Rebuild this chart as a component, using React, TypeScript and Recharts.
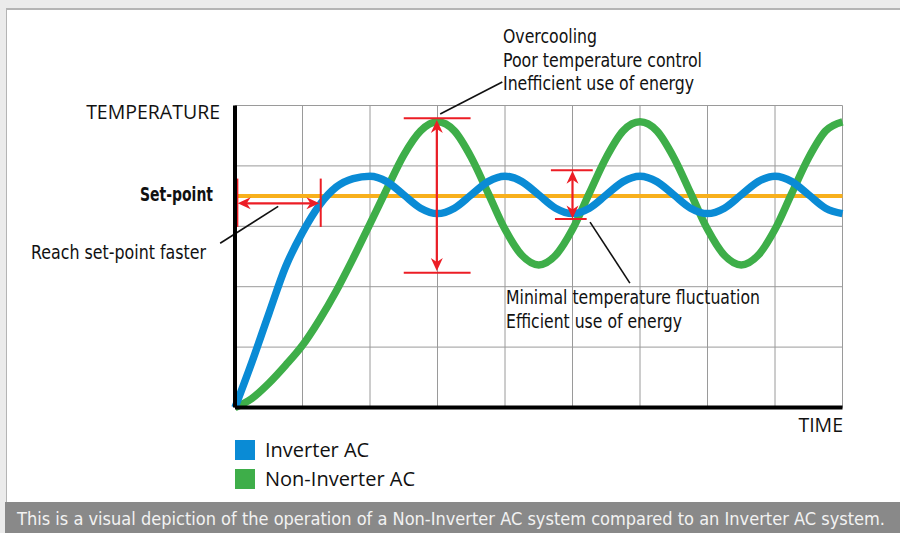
import React from "react"
import { LineChart, Line, XAxis, YAxis, CartesianGrid, ReferenceLine, Legend } from "recharts"

// time axis (grid units), one point every quarter cell
const timeSteps = [0, 0.25, 0.5, 0.75, 1, 1.25, 1.5, 1.75, 2, 2.25, 2.5, 2.75, 3, 3.25, 3.5, 3.75, 4, 4.25, 4.5, 4.75, 5, 5.25, 5.5, 5.75, 6, 6.25, 6.5, 6.75, 7, 7.25, 7.5, 7.75, 8, 8.25, 8.5, 8.75, 9]

// temperature readings
const inverterAC = [0, 0.75, 1.55, 2.33, 2.9, 3.35, 3.65, 3.79, 3.83, 3.74, 3.52, 3.3, 3.21, 3.3, 3.52, 3.74, 3.83, 3.74, 3.52, 3.3, 3.21, 3.3, 3.52, 3.74, 3.83, 3.74, 3.52, 3.3, 3.21, 3.3, 3.52, 3.74, 3.83, 3.74, 3.52, 3.3, 3.21]
const nonInverterAC = [0, 0.15, 0.4, 0.7, 1.03, 1.45, 1.93, 2.47, 3.04, 3.62, 4.18, 4.58, 4.73, 4.58, 4.14, 3.55, 2.95, 2.52, 2.36, 2.52, 2.95, 3.55, 4.14, 4.58, 4.73, 4.58, 4.14, 3.55, 2.95, 2.52, 2.36, 2.52, 2.95, 3.55, 4.14, 4.58, 4.73]

const setPoint = 3.5
const xTicks = [0, 1, 2, 3, 4, 5, 6, 7, 8, 9]
const yTicks = [0, 1, 2, 3, 4, 5]

// red markers: [x1, y1, x2, y2] in data units
const redCaps = [
  [0.035, 2.99, 0.035, 3.79],
  [1.27, 2.99, 1.27, 3.79],
  [2.5, 4.79, 3.49, 4.79],
  [2.5, 2.23, 3.49, 2.23],
  [4.68, 3.93, 5.3, 3.93],
  [4.74, 3.12, 5.21, 3.12],
]
const redArrows = [
  [0.04, 3.38, 1.25, 3.38],
  [2.99, 4.76, 2.99, 2.26],
  [5.0, 3.92, 5.0, 3.13],
]
const leaderLines = [
  [0.64, 3.33, -0.22, 2.72],
  [3.04, 4.86, 3.96, 5.39],
  [5.26, 3.07, 5.85, 2.06],
]

const legendOrder = ["Inverter AC", "Non-Inverter AC"]

const chartData = timeSteps.map((t, i) => ({ t, inverter: inverterAC[i], nonInverter: nonInverterAC[i] }))

const RED = "#ec1d25"
const narrow = "'DejaVu Sans Condensed', 'Liberation Sans Narrow', sans-serif"
const plain = "'Open Sans', 'Noto Sans', sans-serif"

// ticks are needed for the grid but not drawn
const NoTick = () => <g />

function ArrowShape(props: any) {
  const { x1, y1, x2, y2 } = props
  const dx = x2 - x1
  const dy = y2 - y1
  const len = Math.hypot(dx, dy) || 1
  const ux = dx / len
  const uy = dy / len
  const px = -uy
  const py = ux
  const L = 13
  const W = 6
  const N = 4
  const head = (tx: number, ty: number, dirx: number, diry: number) => {
    const bx = tx - dirx * L
    const by = ty - diry * L
    const nx = tx - dirx * (L - N)
    const ny = ty - diry * (L - N)
    return `${tx},${ty} ${bx + px * W},${by + py * W} ${nx},${ny} ${bx - px * W},${by - py * W}`
  }
  return (
    <g>
      <line x1={x1 + ux * 6} y1={y1 + uy * 6} x2={x2 - ux * 6} y2={y2 - uy * 6} stroke={RED} strokeWidth={2.2} />
      <polygon points={head(x2, y2, ux, uy)} fill={RED} />
      <polygon points={head(x1, y1, -ux, -uy)} fill={RED} />
    </g>
  )
}

function renderLegend(props: any) {
  const items = [...(props.payload || [])].sort(
    (a: any, b: any) => legendOrder.indexOf(a.value) - legendOrder.indexOf(b.value)
  )
  return (
    <div>
      {items.map((item: any) => (
        <div key={item.value} style={{ display: "flex", alignItems: "center", height: 29 }}>
          <span style={{ display: "inline-block", width: 20, height: 20, background: item.color, marginRight: 10 }} />
          <span style={{ fontFamily: plain, fontSize: 20, color: "#111", lineHeight: "20px" }}>{item.value}</span>
        </div>
      ))}
    </div>
  )
}

// narrow annotation text squeezed to the width measured in the picture
function Note({ x, y, w, children, bold, fill, size }: any) {
  return (
    <text
      x={x}
      y={y}
      textLength={w}
      lengthAdjust="spacingAndGlyphs"
      fontFamily={narrow}
      fontWeight={bold ? "bold" : "normal"}
      fontSize={size || 20}
      fill={fill || "#111"}
    >
      {children}
    </text>
  )
}

export default function App() {
  return (
    <div style={{ position: "absolute", left: 0, top: 0, width: 900, height: 533, background: "#ebebeb", overflow: "hidden" }}>
      {/* white panel */}
      <div style={{ position: "absolute", left: 6, top: 8, width: 894, height: 494, background: "#fff", borderLeft: "1.5px solid #b4b4b4", borderTop: "2px solid #b4b4b4", boxSizing: "border-box" }} />
      {/* caption bar */}
      <div style={{ position: "absolute", left: 5, top: 502, width: 895, height: 31, background: "#898989" }} />

      <div style={{ position: "absolute", left: 0, top: 0 }}>
        <LineChart width={900} height={533} data={chartData} margin={{ top: 105.5, right: 57.5, bottom: 124.5, left: 234 }}>
          <CartesianGrid stroke="#9a9a9a" strokeWidth={1} />
          <XAxis
            type="number"
            dataKey="t"
            domain={[0, 9]}
            ticks={xTicks}
            interval={0}
            tick={NoTick}
            tickLine={false}
            height={1}
            axisLine={{ stroke: "#000", strokeWidth: 4 }}
          />
          <YAxis
            type="number"
            domain={[0, 5]}
            ticks={yTicks}
            interval={0}
            tick={NoTick}
            tickLine={false}
            width={1}
            axisLine={{ stroke: "#000", strokeWidth: 4 }}
          />
          <ReferenceLine y={setPoint} stroke="#f8b01c" strokeWidth={4} />
          <Line
            type="monotone"
            dataKey="nonInverter"
            name="Non-Inverter AC"
            stroke="#3eae49"
            strokeWidth={7.5}
            dot={false}
            activeDot={false}
            isAnimationActive={false}
          />
          <Line
            type="monotone"
            dataKey="inverter"
            name="Inverter AC"
            stroke="#0a8bd5"
            strokeWidth={7.5}
            dot={false}
            activeDot={false}
            isAnimationActive={false}
          />
          {redCaps.map(([a, b, c, d], i) => (
            <ReferenceLine
              key={`cap${i}`}
              segment={[{ x: a, y: b }, { x: c, y: d }]}
              stroke={RED}
              strokeWidth={2}
              ifOverflow="visible"
            />
          ))}
          {redArrows.map(([a, b, c, d], i) => (
            <ReferenceLine
              key={`arr${i}`}
              segment={[{ x: a, y: b }, { x: c, y: d }]}
              stroke={RED}
              ifOverflow="visible"
              shape={ArrowShape}
            />
          ))}
          {leaderLines.map(([a, b, c, d], i) => (
            <ReferenceLine
              key={`lead${i}`}
              segment={[{ x: a, y: b }, { x: c, y: d }]}
              stroke="#111"
              strokeWidth={1.6}
              ifOverflow="visible"
            />
          ))}
          <Legend
            layout="vertical"
            align="center"
            verticalAlign="middle"
            wrapperStyle={{ left: 235, top: 435.5, width: 300 }}
            content={renderLegend}
          />
        </LineChart>
      </div>

      <svg width={900} height={533} style={{ position: "absolute", left: 0, top: 0, pointerEvents: "none" }}>
        <text x={220} y={118.5} textAnchor="end" fontFamily={plain} fontSize={19.5} fill="#111">TEMPERATURE</text>
        <Note x={140} y={200.5} w={73} bold>Set-point</Note>
        <Note x={31} y={259} w={175}>Reach set-point faster</Note>
        <Note x={503} y={42.7} w={94}>Overcooling</Note>
        <Note x={503} y={66.5} w={199}>Poor temperature control</Note>
        <Note x={503} y={90.3} w={191}>Inefficient use of energy</Note>
        <Note x={506} y={304.3} w={254}>Minimal temperature fluctuation</Note>
        <Note x={506} y={327.7} w={176}>Efficient use of energy</Note>
        <text x={843} y={432} textAnchor="end" fontFamily={plain} fontSize={19.5} fill="#111">TIME</text>
        <Note x={17} y={524.5} w={868} size={17.8} fill="#f2f2f2">
          This is a visual depiction of the operation of a Non-Inverter AC system compared to an Inverter AC system.
        </Note>
      </svg>
    </div>
  )
}
